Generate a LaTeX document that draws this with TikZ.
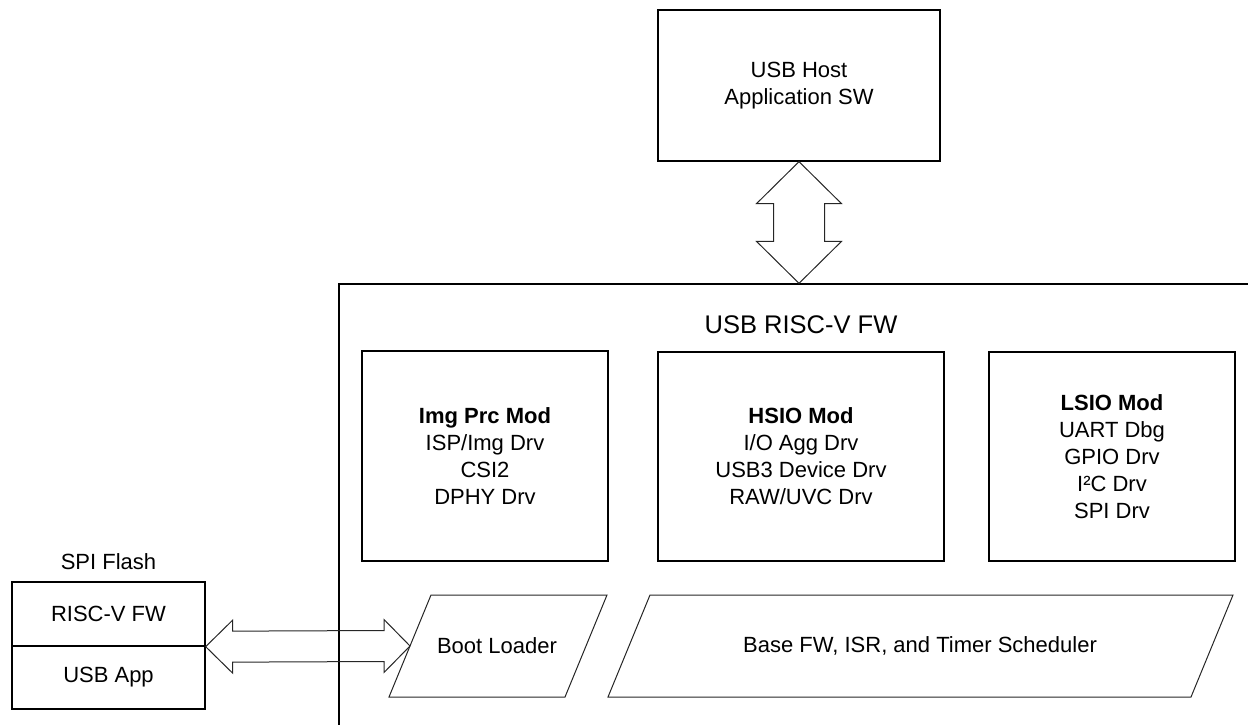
\documentclass[tikz,border=0pt]{standalone}
\usepackage{fontspec}
\setmainfont{Liberation Sans}
\usetikzlibrary{calc}
\begin{document}
\begin{tikzpicture}[x=1pt,y=-1pt,
  box/.style={draw=black, line width=1.3pt, inner sep=0pt, align=center, font=\fontsize{22}{27}\selectfont},
  lbl/.style={inner sep=0pt, align=center, font=\fontsize{22}{27}\selectfont},
  arr/.style={draw=black!85, line width=1pt, line join=miter},
  para/.style={draw=black!85, line width=1pt, line join=miter}
]
\useasboundingbox (0,0) rectangle (1248,725);

% outer firmware container (runs off the page at right and bottom)
\begin{scope}
\clip (0,0) rectangle (1248,725);
\node[box, minimum width=921pt, minimum height=456pt] (fw) at (799.5,512) {};
\end{scope}
\node[lbl, font=\fontsize{25.5}{28}\selectfont] (fwtitle) at (801,325) {USB RISC-V FW};

% host
\node[box, minimum width=282pt, minimum height=151pt] (host) at (799,85.5) {USB Host\\Application SW};

% modules
\node[box, minimum width=246pt, minimum height=210pt] (img) at (485,456) {\textbf{Img Prc Mod}\\ISP/Img Drv\\CSI2\\DPHY Drv};
\node[box, minimum width=286pt, minimum height=209pt] (hsio) at (801,456.5) {\textbf{HSIO Mod}\\I/O Agg Drv\\USB3 Device Drv\\RAW/UVC Drv};
\node[box, minimum width=246pt, minimum height=209pt] (lsio) at (1112,456.5) {\textbf{LSIO Mod}\\UART Dbg\\GPIO Drv\\I²C Drv\\SPI Drv};

% SPI flash
\node[box, minimum width=193pt, minimum height=64pt] (fa) at (108.5,614) {RISC-V FW};
\node[box, minimum width=193pt, minimum height=63pt] (fb) at (108.5,677.5) {USB App};
\node[lbl] (flashtitle) at (108.5,562) {SPI Flash};

% parallelograms
\coordinate (b1) at (431,595);
\coordinate (b2) at (607,595);
\coordinate (b3) at (565,697);
\coordinate (b4) at (389,697);
\draw[para] (b1) -- (b2) -- (b3) -- (b4) -- cycle;
\node[lbl] (boot) at (497,646) {Boot Loader};
\coordinate (bootW) at ($(b1)!0.5!(b4)$);

\coordinate (p1) at (650,595);
\coordinate (p2) at (1233,595);
\coordinate (p3) at (1191,697);
\coordinate (p4) at (608,697);
\draw[para] (p1) -- (p2) -- (p3) -- (p4) -- cycle;
\node[lbl] (base) at (920,646) {Base FW, ISR, and Timer Scheduler};

% top double arrow
\coordinate (T) at (host.south);
\coordinate (B) at (host.south |- fw.north);
\draw[arr] (T) -- ++(42.5,42) -- ++(-17,0) -- ($(B)+(25.5,-42)$) -- ++(17,0) -- (B)
  -- ++(-42.5,-42) -- ++(17,0) -- ($(T)+(-25.5,42)$) -- ++(-17,0) -- cycle;

% left double arrow
\coordinate (L) at (fa.south east);
\draw[arr] (L) -- ++(27,-26.5) -- ++(0,11) -- ($(bootW)+(-26,-15.5)$) -- ++(0,-11) -- (bootW)
  -- ++(-26,26.5) -- ++(0,-11) -- ($(L)+(27,15.5)$) -- ++(0,11) -- cycle;
\end{tikzpicture}
\end{document}
